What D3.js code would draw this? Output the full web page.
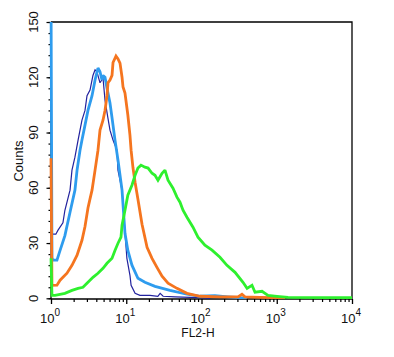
<!DOCTYPE html>
<html>
<head>
<meta charset="utf-8">
<script src="https://cdn.jsdelivr.net/npm/d3@7"></script>
<style>
  html, body { margin: 0; padding: 0; background: #fff; }
  svg { display: block; font-family: "Liberation Sans", Arial, sans-serif; }
</style>
</head>
<body>
<svg id="chart" width="394" height="357"></svg>
<script>
// ---- data ----
const yTicks = [0, 30, 60, 90, 120, 150];
const xTicks = [1, 10, 100, 1000, 10000];
const xTickExp = ["0", "1", "2", "3", "4"];
const xLabel = "FL2-H";
const yLabel = "Counts";

const navyX = [1.0, 1.03, 1.16, 1.24, 1.44, 1.53, 1.79, 1.90, 2.08, 2.29, 2.43, 2.58, 2.83, 3.01, 3.30, 3.61, 3.85, 4.08, 4.48, 4.91, 5.22, 5.71, 6.08, 6.67, 7.53, 7.76, 8.79, 9.62, 10.2, 11.2, 11.6, 13.1, 15.2, 20.7, 26.3, 28.2, 30.9, 44.7, 70.8, 100, 130];
const navyY = [35, 34.8, 34.8, 37, 41, 47.8, 58.7, 69.6, 76.6, 85.9, 91.3, 96.7, 102, 110, 113, 121, 124, 123, 117, 119.6, 107.6, 97.8, 91.3, 85.9, 80.4, 69.6, 58.7, 35.9, 21.7, 12.5, 7.1, 2.7, 1.6, 1.6, 1.1, 2.7, 1.1, 0.8, 0.5, 0.3, 0];

const blueX = [1.0, 1.03, 1.06, 1.20, 1.32, 1.53, 1.79, 2.08, 2.22, 2.43, 2.58, 2.83, 3.10, 3.51, 3.85, 4.21, 4.48, 4.76, 4.91, 5.22, 5.55, 6.08, 6.47, 7.08, 7.77, 8.79, 9.62, 10.5, 11.9, 14.3, 17.7, 24.1, 38.1, 64.1, 95.5, 151, 224, 325, 400];
const blueY = [170, 22, 20.7, 20.7, 26, 34, 46.7, 58.7, 69.6, 80.4, 86, 94, 102, 110, 118.5, 125, 123, 118.5, 121, 120, 114, 106, 98, 86, 75, 58.7, 35.3, 26, 18, 10.9, 8.7, 6.5, 4.3, 2.2, 1.1, 1.4, 0.8, 0.3, 0];

const orangeX = [1.0, 1.03, 1.20, 1.32, 1.63, 1.90, 2.22, 2.58, 2.83, 3.10, 3.30, 3.51, 3.85, 4.21, 4.48, 4.91, 5.22, 5.55, 5.72, 6.08, 6.47, 6.67, 7.31, 7.77, 8.26, 8.79, 9.06, 9.62, 10.5, 11.2, 11.6, 12.3, 13.1, 14.3, 16.2, 18.9, 22.0, 25.6, 29.9, 35.9, 47.2, 64.1, 95.5, 176, 305, 345, 378, 598, 1040, 1290];
const orangeY = [76, 7, 7.1, 9.8, 13.6, 17.9, 23.4, 31.5, 39, 49, 54, 58.7, 69.6, 80.4, 91.3, 96.7, 102, 110, 117, 118.5, 121, 128, 131.5, 130, 127.7, 120, 114.7, 111.4, 99.5, 88.6, 80.4, 70.7, 63, 53.8, 40.2, 27.7, 21.7, 16.8, 12, 8.2, 5.4, 2.7, 1.1, 0.8, 0.8, 2.2, 0.8, 0.5, 0.3, 0];

const greenX = [1.0, 1.03, 1.13, 1.53, 1.90, 2.29, 2.66, 3.10, 3.61, 4.21, 4.91, 5.55, 6.47, 7.08, 7.77, 8.51, 8.79, 9.62, 10.5, 11.9, 13.1, 14.3, 15.7, 17.7, 19.5, 22.0, 24.1, 26.4, 29.9, 32.7, 35.9, 41.8, 47.2, 51.8, 56.8, 64.1, 77.1, 89.8, 111, 138, 176, 218, 279, 356, 403, 469, 514, 637, 765, 1007, 1413, 10000];
const greenY = [21.7, 1.6, 1.6, 2.7, 4.3, 5.4, 6.0, 8.7, 11.4, 13.6, 16.3, 19, 21.7, 26, 29.9, 33.2, 39.7, 47.8, 56, 61.4, 66.8, 70.7, 72.3, 71.2, 70.7, 67.9, 66.8, 64.1, 67.9, 69.6, 64.1, 59.8, 54.9, 52.2, 47.8, 44, 38.6, 33.2, 28.8, 26.1, 22.3, 17.9, 14.1, 8.7, 5.4, 7.1, 3.3, 3.8, 1.6, 1.1, 0.5, 0.3];

const series = [
  { name: "isotype-low", xs: navyX, ys: navyY, color: "#22229e", width: 1.2 },
  { name: "isotype", xs: blueX, ys: blueY, color: "#2e9cee", width: 2.8 },
  { name: "control", xs: orangeX, ys: orangeY, color: "#f5751f", width: 2.8 },
  { name: "stained", xs: greenX, ys: greenY, color: "#2ef02e", width: 2.8 }
];

// ---- layout ----
const svg = d3.select("#chart");
const pLeft = 51, pRight = 352, pTop = 22, pBottom = 299;

const x = d3.scaleLog().domain([1, 10000]).range([pLeft, pRight]);
const y = d3.scaleLinear().domain([0, 150]).range([298.3, pTop]);

svg.append("defs").append("clipPath").attr("id", "plotclip")
  .append("rect").attr("x", pLeft - 3).attr("y", pTop).attr("width", pRight - pLeft + 3).attr("height", pBottom - pTop);

// frame (top + right)
svg.append("path")
  .attr("d", `M${pLeft},${pTop}H${pRight}V${pBottom}`)
  .attr("fill", "none").attr("stroke", "#000").attr("stroke-width", 1.3);

// y axis minor ticks
const yMinor = d3.range(0, 151, 6);
svg.append("g").attr("transform", `translate(${pLeft},0)`)
  .call(d3.axisLeft(y).tickValues(yMinor).tickSize(2.5).tickFormat(""))
  .call(g => g.select(".domain").remove())
  .call(g => g.selectAll("line").attr("stroke-width", 1.2));
// y axis major
svg.append("g").attr("transform", `translate(${pLeft},0)`)
  .call(d3.axisLeft(y).tickValues(yTicks).tickSize(4.5).tickSizeOuter(0).tickFormat(""))
  .call(g => g.select(".domain").attr("d", `M0,${pTop}V${pBottom}`).attr("stroke-width", 1.3))
  .call(g => g.selectAll("line").attr("stroke-width", 1.2));

svg.append("g").selectAll("text").data(yTicks).join("text")
  .attr("transform", d => `translate(38,${y(d)}) rotate(-90)`)
  .attr("text-anchor", "middle")
  .attr("font-size", 13)
  .attr("fill", "#111")
  .text(d => d);

// x axis minor ticks
const xMinor = [];
[1, 10, 100, 1000].forEach(dec => { for (let k = 2; k <= 9; k++) xMinor.push(dec * k); });
svg.append("g").attr("transform", `translate(0,${pBottom})`)
  .call(d3.axisBottom(x).tickValues(xMinor).tickSize(3).tickFormat(""))
  .call(g => g.select(".domain").remove())
  .call(g => g.selectAll("line").attr("stroke-width", 1.2));
svg.append("g").attr("transform", `translate(0,${pBottom})`)
  .call(d3.axisBottom(x).tickValues(xTicks).tickSize(5).tickSizeOuter(0).tickFormat(""))
  .call(g => g.select(".domain").attr("d", `M${pLeft},0H${pRight}`).attr("stroke-width", 1.3))
  .call(g => g.selectAll("line").attr("stroke-width", 1.3));

const xl = svg.append("g").selectAll("text").data(xTicks).join("text")
  .attr("x", d => x(d) - 1)
  .attr("y", 323)
  .attr("text-anchor", "middle")
  .attr("font-size", 13)
  .attr("fill", "#111");
xl.append("tspan").text("10");
xl.append("tspan").attr("dy", -7).attr("font-size", 10).text((d, i) => xTickExp[i]);

svg.append("text").attr("x", 198).attr("y", 337).attr("text-anchor", "middle")
  .attr("font-size", 12).attr("fill", "#111").text(xLabel);
svg.append("text").attr("transform", "translate(23,161) rotate(-90)")
  .attr("text-anchor", "middle").attr("font-size", 13).attr("fill", "#111").text(yLabel);

// curves
const line = d3.line().x(d => x(d[0])).y(d => y(d[1])).curve(d3.curveLinear);
const gCurves = svg.append("g").attr("clip-path", "url(#plotclip)");
series.forEach(s => {
  const pts = s.xs.map((v, i) => [v, s.ys[i]]);
  gCurves.append("path").datum(pts)
    .attr("d", line)
    .attr("fill", "none")
    .attr("stroke", s.color)
    .attr("stroke-width", s.width)
    .attr("stroke-linejoin", "miter")
    .attr("stroke-miterlimit", 2);
});
</script>
</body>
</html>
